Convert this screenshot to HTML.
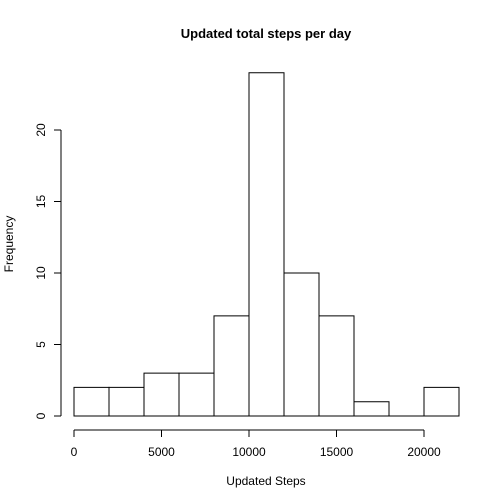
<!DOCTYPE html>
<html><head><meta charset="utf-8"><style>
body{margin:0;background:#fff}
svg{display:block;font-family:"Liberation Sans",Arial,sans-serif}
</style></head><body>
<svg id="chart" width="504" height="504">
<rect width="504" height="504" fill="#fff"/>
<text x="266" y="38" text-anchor="middle" font-size="13" font-weight="bold">Updated total steps per day</text>
<text x="266" y="485" text-anchor="middle" font-size="12">Updated Steps</text>
<text transform="translate(13,244) rotate(-90)" text-anchor="middle" font-size="12">Frequency</text>
<g id="bars"></g><g id="xaxis"></g><g id="yaxis"></g>
</svg>
<script>
const binStarts=[0,2000,4000,6000,8000,10000,12000,14000,16000,18000,20000];
const binWidth=2000;
const counts=[2,2,3,3,7,24,10,7,1,0,2];
const xTicks=[0,5000,10000,15000,20000];
const yTicks=[0,5,10,15,20];
const NS="http://www.w3.org/2000/svg";
const X=v=>74+v*0.0175;
const Y=v=>416-v*14.3;
function mk(tag,attrs,parent){const e=document.createElementNS(NS,tag);for(const k in attrs)e.setAttribute(k,attrs[k]);parent.appendChild(e);return e;}
const bars=document.getElementById('bars');
binStarts.forEach((b,i)=>{
  const x0=X(b),x1=X(b+binWidth),y0=Y(0),y1=Y(counts[i]);
  const r=mk('path',{d:`M${x0},${y0}L${x0},${y1}L${x1},${y1}L${x1},${y0}Z`,fill:'#fff',stroke:'#000','stroke-width':1},bars);
  
  
});
const xa=document.getElementById('xaxis');
const xl=mk('line',{x1:X(xTicks[0]),x2:X(xTicks[xTicks.length-1]),y1:430,y2:430,stroke:'#000'},xa);


xTicks.forEach(t=>{
  mk('line',{x1:X(t),x2:X(t),y1:430,y2:437,stroke:'#000'},xa);
  const tx=mk('text',{x:X(t),y:456,'text-anchor':'middle','font-size':12},xa);
  tx.textContent=t;
  
  
});
const ya=document.getElementById('yaxis');
const yl=mk('line',{x1:61,x2:61,y1:Y(yTicks[0]),y2:Y(yTicks[yTicks.length-1]),stroke:'#000'},ya);


yTicks.forEach(t=>{
  mk('line',{x1:54,x2:61,y1:Y(t),y2:Y(t),stroke:'#000'},ya);
  const tx=mk('text',{transform:`translate(45,${Y(t)}) rotate(-90)`,'text-anchor':'middle','font-size':12},ya);
  tx.textContent=t;
  
  
});
</script>
</body></html>
